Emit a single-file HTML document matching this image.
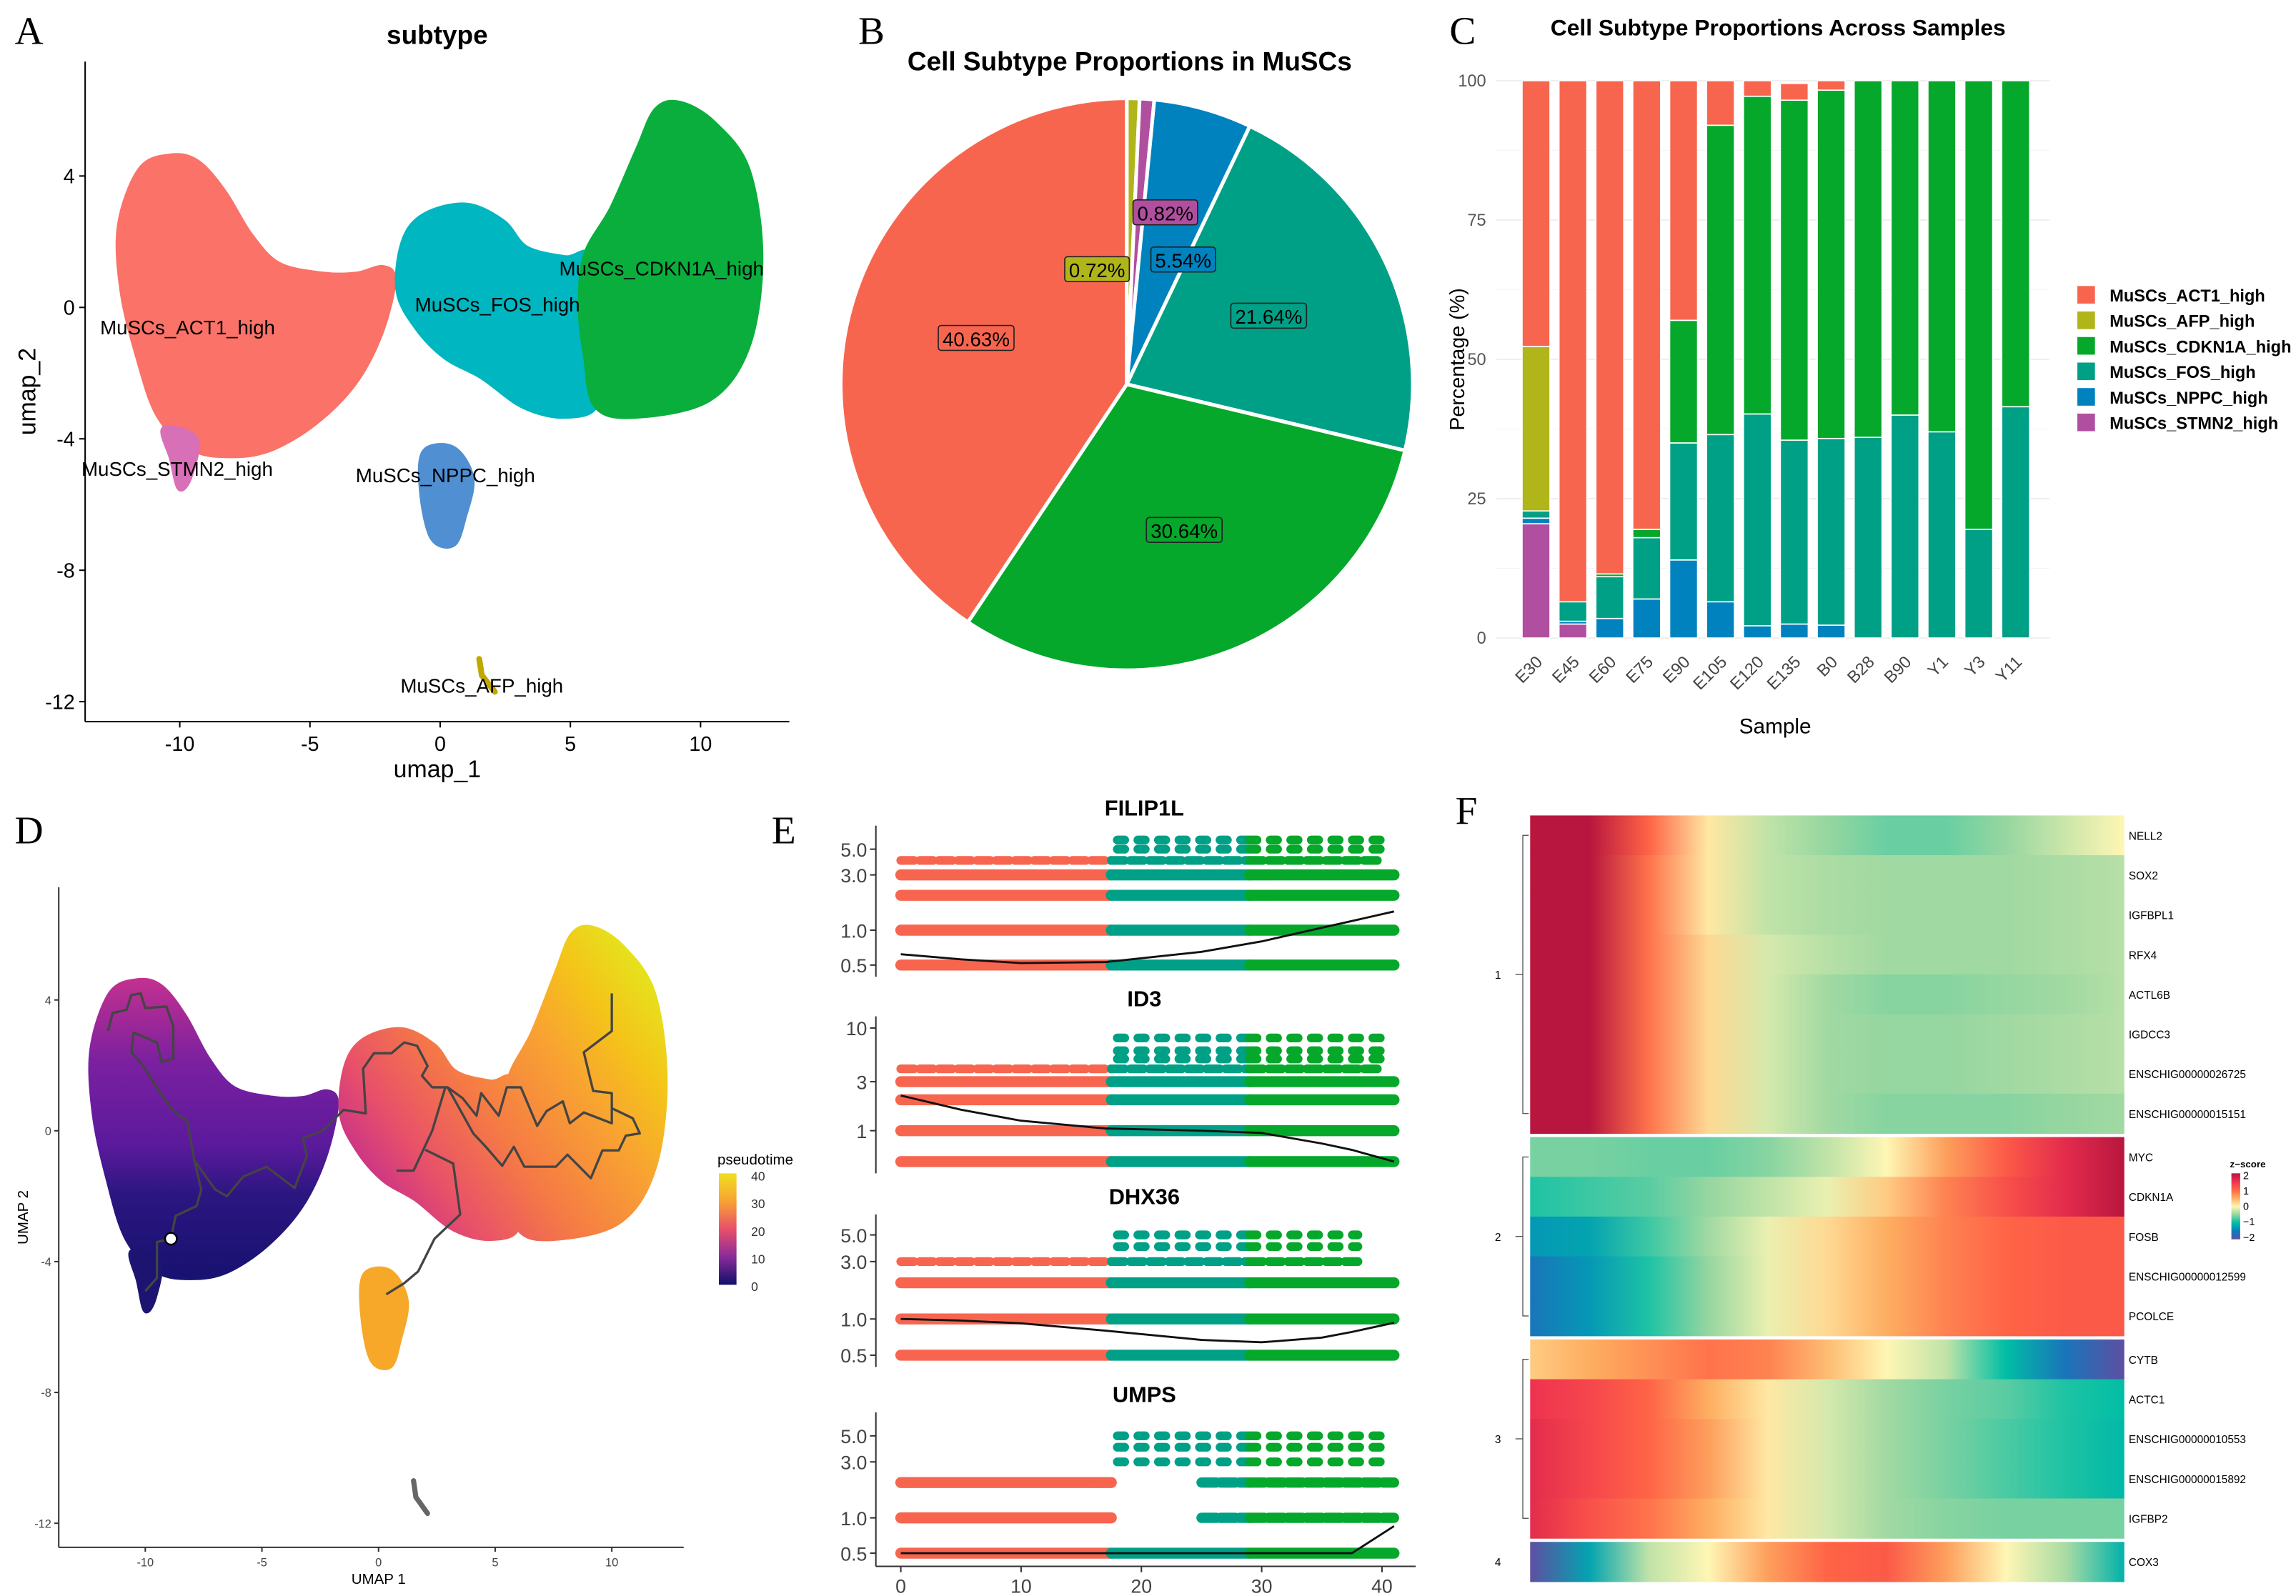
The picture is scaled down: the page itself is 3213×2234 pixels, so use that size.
<!DOCTYPE html>
<html><head><meta charset="utf-8"><style>
html,body{margin:0;padding:0;background:#fff}
svg{display:block}
text{font-family:"Liberation Sans",sans-serif}
.let{font-family:"Liberation Serif",serif;font-size:27px}
</style></head><body>
<svg id="fig" xmlns="http://www.w3.org/2000/svg" width="3213" height="2234" viewBox="0 0 1565 1088.2">
<defs id="defs"></defs>
<text class="let" x="10" y="30">A</text>
<text class="let" x="585" y="30">B</text>
<text class="let" x="988" y="30">C</text>
<text class="let" x="10" y="575">D</text>
<text class="let" x="526" y="575">E</text>
<text class="let" x="992" y="562">F</text>
<g id="pA"></g>
<g id="pB"></g>
<g id="pC"></g>
<g id="pD"></g>
<g id="pE"></g>
<g id="pF"></g>
</svg>
<script>
const NS="http://www.w3.org/2000/svg";
function mk(p,tag,at,txt){const e=document.createElementNS(NS,tag);for(const k in at)e.setAttribute(k,at[k]);if(txt!==undefined)e.textContent=txt;p.appendChild(e);return e;}
const defs=document.getElementById('defs');
function smoothPath(P){const n=P.length;let d='M'+P[0][0]+','+P[0][1];
 for(let i=0;i<n;i++){const p0=P[(i-1+n)%n],p1=P[i],p2=P[(i+1)%n],p3=P[(i+2)%n];
  const c1=[p1[0]+(p2[0]-p0[0])/6,p1[1]+(p2[1]-p0[1])/6],c2=[p2[0]-(p3[0]-p1[0])/6,p2[1]-(p3[1]-p1[1])/6];
  d+=`C${c1[0]},${c1[1]} ${c2[0]},${c2[1]} ${p2[0]},${p2[1]}`;}return d+'Z';}

const COL={ACT1:'#F8654F',AFP:'#B0B51A',CDKN1A:'#05A82A',FOS:'#00A087',NPPC:'#0082BF',STMN2:'#B04FA0'};

// ===== Panel A data =====
const clusterNames=['ACT1','FOS','CDKN1A','NPPC','STMN2'];
const clusterColorsA=['#FA7268','#00B6C0','#0AAE3C','#4F8FD2','#D870B8'];
const shapeACT1=[[-11.5,4.2],[-10.3,4.6],[-9.3,4.4],[-8.3,3.5],[-7.3,2.2],[-6.2,1.3],[-4.5,1.0],[-3.2,1.0],[-2.2,1.2],[-1.8,0.8],[-2.3,-0.8],[-3.3,-2.3],[-4.8,-3.5],[-6.5,-4.3],[-8,-4.5],[-9.5,-4.3],[-10.8,-3.3],[-11.6,-1.5],[-12.2,0.5],[-12.3,2.5]];
const shapeFOS=[[-1.4,2],[-0.6,2.8],[1,3.1],[2.4,2.6],[3.3,1.8],[4.8,1.5],[5.8,1.5],[5.6,-1],[6,-2.9],[4.8,-3.3],[3.2,-3],[1.6,-2.1],[0.2,-1.5],[-0.9,-0.6],[-1.6,0.5]];
const shapeCDKN1A=[[5.6,1.6],[6.6,3],[7.6,4.8],[8.3,6],[9.2,6.2],[10.5,5.6],[11.8,4.2],[12.3,1.5],[11.8,-1.2],[10.3,-2.8],[7.5,-3.3],[6,-3],[5.6,-1.5],[5.4,0]];
const shapeNPPC=[[-0.6,-4.4],[0.5,-4.3],[1.2,-5.2],[0.9,-6.4],[0.5,-7.2],[-0.3,-7.0],[-0.7,-5.6]];
const shapeSTMN2=[[-10.6,-3.7],[-9.4,-4.0],[-9.6,-5.1],[-10,-5.5],[-10.3,-4.6]];
const shapeAFP=[[1.5,-10.7],[1.6,-11.2],[2.1,-11.7]];
const labelA=[['MuSCs_ACT1_high',-9.7,-0.6],['MuSCs_FOS_high',2.2,0.1],['MuSCs_CDKN1A_high',8.5,1.2],['MuSCs_STMN2_high',-10.1,-4.9],['MuSCs_NPPC_high',0.2,-5.1],['MuSCs_AFP_high',1.6,-11.5]];
const ticksUx=[-10,-5,0,5,10], ticksUy=[4,0,-4,-8,-12];

(function(){
 const g=document.getElementById('pA');
 const X=u=>300+u*17.75, Y=v=>209.6-v*22.4;
 const poly=(pts,fill,name)=>{const p=mk(g,'path',{d:smoothPath(pts.map(q=>[X(q[0]),Y(q[1])])),fill:fill,stroke:fill,'stroke-width':4,'stroke-linejoin':'round'});};
 [shapeACT1,shapeFOS,shapeCDKN1A,shapeNPPC,shapeSTMN2].forEach((s,i)=>poly(s,clusterColorsA[i],'cluster-'+clusterNames[i].toLowerCase()));
 const afp=mk(g,'polyline',{points:shapeAFP.map(q=>X(q[0])+','+Y(q[1])).join(' '),fill:'none',stroke:'#C0A800','stroke-width':4,'stroke-linecap':'round'});
 
 mk(g,'line',{x1:58,y1:42,x2:58,y2:492,stroke:'#000','stroke-width':1});
 mk(g,'line',{x1:58,y1:492,x2:538,y2:492,stroke:'#000','stroke-width':1});
 ticksUx.forEach(t=>{mk(g,'line',{x1:X(t),y1:492,x2:X(t),y2:496,stroke:'#000'});const e=mk(g,'text',{x:X(t),y:512,'text-anchor':'middle','font-size':14},String(t));});
 ticksUy.forEach(t=>{mk(g,'line',{x1:54,y1:Y(t),x2:58,y2:Y(t),stroke:'#000'});const e=mk(g,'text',{x:51,y:Y(t)+5,'text-anchor':'end','font-size':14},String(t));});
 labelA.forEach(l=>{const e=mk(g,'text',{x:X(l[1]),y:Y(l[2])+5,'text-anchor':'middle','font-size':13.5},l[0]);});
 let e=mk(g,'text',{x:298,y:530,'text-anchor':'middle','font-size':16.5},'umap_1');
 e=mk(g,'text',{x:24,y:267,'text-anchor':'middle','font-size':16.5,transform:'rotate(-90 24 267)'},'umap_2');
 e=mk(g,'text',{x:298,y:30,'text-anchor':'middle','font-size':18,'font-weight':'bold'},'subtype');
})();

// ===== Panel B pie =====
const pieLabels=['MuSCs_AFP_high','MuSCs_STMN2_high','MuSCs_NPPC_high','MuSCs_FOS_high','MuSCs_CDKN1A_high','MuSCs_ACT1_high'];
const pieValues=[0.72,0.82,5.54,21.64,30.64,40.63];
const pieColors=[COL.AFP,COL.STMN2,COL.NPPC,COL.FOS,COL.CDKN1A,COL.ACT1];
(function(){
 const g=document.getElementById('pB');const cx=768,cy=262,r=195;
 const tot=pieValues.reduce((a,b)=>a+b,0);let acc=0;
 const pt=(f,rr)=>[cx+rr*Math.sin(f*2*Math.PI),cy-rr*Math.cos(f*2*Math.PI)];
 const labs=[];
 pieValues.forEach((v,i)=>{const f0=acc/tot,f1=(acc+v)/tot;acc+=v;
  const a=pt(f0,r),b=pt(f1,r);const large=(f1-f0)>0.5?1:0;
  const p=mk(g,'path',{d:`M${cx},${cy}L${a[0]},${a[1]}A${r},${r} 0 ${large} 1 ${b[0]},${b[1]}Z`,fill:pieColors[i],stroke:'#fff','stroke-width':2.5});
  
  let m;
  if(v<2){m=pt((f0+f1)/2,r*(i==0?0.4:0.6));m[0]+=(i==0?-22:18);}
  else if(v<10){m=pt((f0+f1)/2,r*0.45);m[0]+=15;}
  else m=pt((f0+f1)/2,r*0.55);
  labs.push([m,v,pieColors[i]]);});
 labs.forEach(l=>{const t=l[1].toFixed(2)+'%';const w=t.length*7.6+6;
  mk(g,'rect',{x:l[0][0]-w/2,y:l[0][1]-9,width:w,height:17,rx:2,fill:l[2],stroke:'#222','stroke-width':0.8});
  const e=mk(g,'text',{x:l[0][0],y:l[0][1]+5,'text-anchor':'middle','font-size':13.5},t);});
 const e=mk(g,'text',{x:770,y:48,'text-anchor':'middle','font-size':18,'font-weight':'bold'},'Cell Subtype Proportions in MuSCs');
})();

// ===== Panel C stacked bars =====
const samples=['E30','E45','E60','E75','E90','E105','E120','E135','B0','B28','B90','Y1','Y3','Y11'];
const stackOrder=['STMN2','NPPC','FOS','CDKN1A','AFP','ACT1'];
const vSTMN2=[20.5,2.5,0,0,0,0,0,0,0,0,0,0,0,0];
const vNPPC=[1,0.5,3.5,7,14,6.5,2.2,2.5,2.3,0,0,0,0,0];
const vFOS=[1.3,3.5,7.5,11,21,30,38,33,33.5,36,40,37,19.5,41.5];
const vCDKN1A=[0,0,0.5,1.5,22,55.5,57,61,62.5,64,60,63,80.5,58.5];
const vAFP=[29.5,0,0,0,0,0,0,0,0,0,0,0,0,0];
const vACT1=[47.7,93.5,88.5,80.5,43,8,2.8,3,1.7,0,0,0,0,0];
const yTicksC=[0,25,50,75,100];
(function(){
 const g=document.getElementById('pC');const Y=v=>435-v*3.8;const X=i=>1047+i*25.15;const bw=19;
 yTicksC.forEach(t=>{mk(g,'line',{x1:1020,x2:1397,y1:Y(t),y2:Y(t),stroke:'#ececec','stroke-width':0.8});
  const e=mk(g,'text',{x:1013,y:Y(t)+4,'text-anchor':'end','font-size':11.5,fill:'#555'},String(t));});
 [12.5,37.5,62.5,87.5].forEach(t=>mk(g,'line',{x1:1020,x2:1397,y1:Y(t),y2:Y(t),stroke:'#f4f4f4','stroke-width':0.6}));
 const series=[vSTMN2,vNPPC,vFOS,vCDKN1A,vAFP,vACT1];
 samples.forEach((s,i)=>{let acc=0;
  series.forEach((arr,k)=>{const v=arr[i];if(v<=0)return;const r=mk(g,'rect',{x:X(i)-bw/2,y:Y(acc+v),width:bw,height:v*3.8,fill:COL[stackOrder[k]],stroke:'#fff','stroke-width':0.8});
   acc+=v;});
  const e=mk(g,'text',{x:X(i)+5,y:452,'text-anchor':'end','font-size':11.5,fill:'#444',transform:`rotate(-45 ${X(i)+5} 452)`},s);});
 let e=mk(g,'text',{x:1210,y:500,'text-anchor':'middle','font-size':14.5},'Sample');
 e=mk(g,'text',{x:998,y:245,'text-anchor':'middle','font-size':14,transform:'rotate(-90 998 245)'},'Percentage (%)');
 e=mk(g,'text',{x:1212,y:24,'text-anchor':'middle','font-size':15.5,'font-weight':'bold'},'Cell Subtype Proportions Across Samples');
 ['ACT1','AFP','CDKN1A','FOS','NPPC','STMN2'].forEach((k,i)=>{const y=195+i*17.4;
  const lg=mk(g,'g',{});
  mk(lg,'rect',{x:1416,y:y,width:12,height:12,fill:COL[k]});
  mk(lg,'text',{x:1438,y:y+10.5,'font-size':11.5,'font-weight':'bold'},'MuSCs_'+k+'_high');});
})();

// ===== Panel D pseudotime =====
const trajMain=[[-8.9,-3.3],[-8.7,-2.6],[-7.8,-2.3],[-7.6,-1.8],[-7.9,-0.9],[-8.2,0.3],[-8.8,0.6],[-9.3,1.1],[-10.1,2.0],[-10.6,2.4],[-10.5,3.0],[-9.5,2.7],[-9.3,2.1],[-8.8,2.2],[-8.8,3.2],[-9.1,3.8],[-10.0,3.75],[-10.2,4.2],[-10.6,4.15],[-10.8,3.7],[-11.4,3.6],[-11.6,3.05]];
const trajBridge=[[-7.9,-0.9],[-7.2,-1.6],[-7,-1.8],[-6.5,-2.0],[-5.8,-1.4],[-4.8,-1.1],[-3.6,-1.75],[-3.07,-0.76],[-3.25,-0.23],[-2.4,0],[-1.5,0.64],[-0.55,0.53],[-0.66,1.9],[-0.2,2.37],[0.55,2.37],[1.1,2.7],[1.65,2.6],[2.1,1.98],[1.86,1.68],[2.3,1.33],[2.96,1.33],[3.6,1.0],[4.2,0.46],[4.4,1.15],[5.15,0.46],[5.5,1.33],[6.1,1.33],[6.8,0.15],[7.2,0.6],[7.9,0.9],[8.2,0.23],[8.8,0.56],[10,0.23],[10,1.15],[9.2,1.22],[8.8,2.4],[10,3.05],[10,4.2]];
const trajLoop=[[10,0.69],[10.9,0.38],[11.2,-0.08],[10.6,-0.15],[10.3,-0.6],[9.6,-0.6],[9.1,-1.45],[8.1,-0.73],[7.6,-1.1],[6.25,-1.1],[5.8,-0.49],[5.3,-1.07],[4.6,-0.49],[4.06,-0.08],[2.96,1.33]];
const trajBranch=[[2.85,1.3],[2.3,0],[1.5,-1.22],[0.77,-1.22]];
const trajDown=[[2,-0.58],[3.2,-1],[3.5,-2.56],[2.4,-3.3],[1.7,-4.3],[1.1,-4.66],[0.33,-5.0]];
const trajStem=[[-8.9,-3.3],[-9.5,-3.4],[-9.5,-4.5],[-10,-4.9]];
(function(){
 const g=document.getElementById('pD');const X=u=>258+u*15.9, Y=v=>771-v*22.3;
 const lin=(id,x1,y1,x2,y2,stops)=>{const l=mk(defs,'linearGradient',{id:id,gradientUnits:'userSpaceOnUse',x1:x1,y1:y1,x2:x2,y2:y2});stops.forEach(s=>mk(l,'stop',{offset:s[0],'stop-color':s[1]}));};
 lin('gL',0,Y(4.6),0,Y(-5.5),[[0,'#C1308F'],[0.25,'#7A20A0'],[0.5,'#5B1A9C'],[0.65,'#2B1680'],[1,'#10106A']]);
 lin('gR',X(-1.5),Y(-1),X(11),Y(5.5),[[0,'#C42E8C'],[0.18,'#E8506A'],[0.4,'#F57A45'],[0.65,'#F8A232'],[0.82,'#F5C21A'],[1,'#E5E41C']]);
 const poly=(pts,fill,name)=>{const p=mk(g,'path',{d:smoothPath(pts.map(q=>[X(q[0]),Y(q[1])])),fill:fill,stroke:fill,'stroke-width':3,'stroke-linejoin':'round'});};
 poly(shapeACT1,'url(#gL)','left-cell-cloud');
 poly(shapeSTMN2,'#1C1470','left-tail-cloud');
 poly(shapeFOS,'url(#gR)','middle-cell-cloud');
 poly(shapeCDKN1A,'url(#gR)','right-cell-cloud');
 poly(shapeNPPC,'#F7A828','nppc-cell-cloud');
 const afp=mk(g,'polyline',{points:shapeAFP.map(q=>X(q[0])+','+Y(q[1])).join(' '),fill:'none',stroke:'#666','stroke-width':3.5,'stroke-linecap':'round'});
 
 [trajMain,trajBridge,trajLoop,trajBranch,trajDown,trajStem].forEach(t=>{const p=mk(g,'polyline',{points:t.map(q=>X(q[0])+','+Y(q[1])).join(' '),fill:'none',stroke:'#444','stroke-width':1.6,'stroke-linejoin':'round'});});
 mk(g,'circle',{cx:X(-8.9),cy:Y(-3.3),r:4,fill:'#fff',stroke:'#000','stroke-width':1.2});
 mk(g,'line',{x1:40,y1:605,x2:40,y2:1055,stroke:'#333'});mk(g,'line',{x1:40,y1:1055,x2:466,y2:1055,stroke:'#333'});
 ticksUx.forEach(t=>{mk(g,'line',{x1:X(t),y1:1055,x2:X(t),y2:1058,stroke:'#333'});const e=mk(g,'text',{x:X(t),y:1068,'text-anchor':'middle','font-size':8,fill:'#444'},String(t));});
 ticksUy.forEach(t=>{mk(g,'line',{x1:37,y1:Y(t),x2:40,y2:Y(t),stroke:'#333'});const e=mk(g,'text',{x:35,y:Y(t)+3,'text-anchor':'end','font-size':8,fill:'#444'},String(t));});
 let e=mk(g,'text',{x:258,y:1080,'text-anchor':'middle','font-size':10},'UMAP 1');
 e=mk(g,'text',{x:19,y:830,'text-anchor':'middle','font-size':10,transform:'rotate(-90 19 830)'},'UMAP 2');
 lin('gLeg',0,800,0,876,[[0,'#F0E020'],[0.25,'#F8A232'],[0.5,'#E8506A'],[0.75,'#8A2A9A'],[1,'#10106A']]);
 e=mk(g,'text',{x:489,y:794,'font-size':10},'pseudotime');
 mk(g,'rect',{x:490,y:800,width:12,height:76,fill:'url(#gLeg)'});
 [40,30,20,10,0].forEach((t,i)=>{const e2=mk(g,'text',{x:512,y:805+i*18.8,'font-size':8.5,fill:'#333'},String(t));});
})();

// ===== Panel E genes over pseudotime =====
const genes=['FILIP1L','ID3','DHX36','UMPS'];
const denseRows=[[0.5,1,2,3],[0.5,1,2,3],[0.5,1,2],[0.5]];
const sparseRows=[[4,5,6],[4,5,6,8],[3,4,5],[1,2,3,4,5]];
const trendT=[0,5,10,17,25,30,35,37.5,41];
const trendFILIP1L=[0.62,0.56,0.52,0.53,0.65,0.8,1.05,1.2,1.45];
const trendID3=[2.2,1.6,1.25,1.05,1.0,0.95,0.75,0.65,0.5];
const trendDHX36=[1.0,0.97,0.92,0.8,0.67,0.64,0.7,0.78,0.93];
const trendUMPS=[0.5,0.5,0.5,0.5,0.5,0.5,0.5,0.5,0.85];
const yTicksE=[[5,3,1,0.5],[10,3,1],[5,3,1,0.5],[5,3,1,0.5]];
const xTicksE=[0,10,20,30,40];
(function(){
 const g=document.getElementById('pE');const X=t=>614+t*8.2;
 const panels=[{top:563,y05:658,dec:79},{top:693,y05:792,dec:70},{top:828,y05:924,dec:82},{top:963,y05:1059,dec:80}];
 const trends=[trendFILIP1L,trendID3,trendDHX36,trendUMPS];
 const segs=[[0,17.5,'#F8654F'],[17.5,29,'#00A087'],[29,41,'#05A82A']];
 genes.forEach((gn,k)=>{const P=panels[k];const Y=v=>P.y05-P.dec*Math.log10(v/0.5);
  const bottom=k==3?1068:P.y05+8;
  mk(g,'line',{x1:597,y1:P.top,x2:597,y2:bottom,stroke:'#333'});
  let e=mk(g,'text',{x:780,y:P.top-7,'text-anchor':'middle','font-size':15,'font-weight':'bold'},gn);
  yTicksE[k].forEach(t=>{mk(g,'line',{x1:593,x2:597,y1:Y(t),y2:Y(t),stroke:'#333'});const e2=mk(g,'text',{x:591,y:Y(t)+5,'text-anchor':'end','font-size':13,fill:'#444','font-family':'"DejaVu Sans",sans-serif'},t.toFixed(k==1?0:1));});
  denseRows[k].forEach(v=>segs.forEach(s=>{const l=mk(g,'line',{x1:X(s[0]),x2:X(s[1]),y1:Y(v),y2:Y(v),stroke:s[2],'stroke-width':7.5,'stroke-linecap':'round'});}));
  if(k==3){[1,2].forEach(v=>{const l=mk(g,'line',{x1:X(0),x2:X(17.5),y1:Y(v),y2:Y(v),stroke:'#F8654F','stroke-width':7.5,'stroke-linecap':'round'});});}
  sparseRows[k].forEach((v,j)=>{if(k==3&&v<=2){segs.slice(1).forEach(s=>{const l=mk(g,'line',{x1:X(Math.max(s[0],25)),x2:X(s[1]),y1:Y(v),y2:Y(v),stroke:s[2],'stroke-width':7,'stroke-dasharray':'10 3','stroke-linecap':'round'});});return;}
   const start=(j==0&&k<3)?0:18;
   segs.forEach(s=>{if(s[1]<=start)return;const a=Math.max(s[0],start);const fr=j==0?'9 4':'5 9';
    const l=mk(g,'line',{x1:X(a),x2:X(Math.min(s[1],k==2?38:40)),y1:Y(v),y2:Y(v),stroke:s[2],'stroke-width':6,'stroke-dasharray':fr,'stroke-linecap':'round'});});});
  const tr=trends[k];const pl=mk(g,'polyline',{points:trendT.map((t,i)=>X(t)+','+Y(tr[i])).join(' '),fill:'none',stroke:'#111','stroke-width':1.4,'stroke-linejoin':'round'});
  
 });
 mk(g,'line',{x1:597,y1:1068,x2:965,y2:1068,stroke:'#333'});
 xTicksE.forEach(t=>{mk(g,'line',{x1:X(t),x2:X(t),y1:1068,y2:1072,stroke:'#333'});const e=mk(g,'text',{x:X(t),y:1086,'text-anchor':'middle','font-size':13,fill:'#444','font-family':'"DejaVu Sans",sans-serif'},String(t));});
})();

// ===== Panel F heatmap =====
const heatGenes=['NELL2','SOX2','IGFBPL1','RFX4','ACTL6B','IGDCC3','ENSCHIG00000026725','ENSCHIG00000015151','MYC','CDKN1A','FOSB','ENSCHIG00000012599','PCOLCE','CYTB','ACTC1','ENSCHIG00000010553','ENSCHIG00000015892','IGFBP2','COX3'];
const heatGroup=[1,1,1,1,1,1,1,1,2,2,2,2,2,3,3,3,3,3,4];
const zNELL2=[2,2,1,0.1,-0.3,-0.5,-0.65,-0.65,-0.5,-0.25,0];
const zSOX2=[2,2,0.9,0.1,-0.3,-0.4,-0.45,-0.45,-0.45,-0.4,-0.35];
const zIGFBPL1=[2,2,0.9,0.1,-0.3,-0.4,-0.45,-0.45,-0.45,-0.4,-0.35];
const zRFX4=[2,2,0.9,0.2,-0.2,-0.35,-0.45,-0.45,-0.45,-0.4,-0.35];
const zACTL6B=[2,2,0.9,0.2,-0.2,-0.45,-0.55,-0.55,-0.5,-0.45,-0.35];
const zIGDCC3=[2,2,0.9,0.2,-0.2,-0.45,-0.5,-0.5,-0.45,-0.4,-0.35];
const zENS26725=[2,2,0.9,0.2,-0.2,-0.45,-0.5,-0.5,-0.45,-0.4,-0.35];
const zENS15151=[2,2,0.9,0.2,-0.2,-0.45,-0.55,-0.55,-0.55,-0.5,-0.45];
const zMYC=[-0.6,-0.6,-0.65,-0.65,-0.55,-0.3,0,0.6,1.1,1.6,2];
const zCDKN1A=[-0.9,-0.8,-0.7,-0.5,-0.3,-0.1,0.3,0.8,1.2,1.6,2];
const zFOSB=[-1.3,-1.2,-0.8,-0.45,-0.1,0.2,0.5,0.8,1,1.1,1.1];
const zENS12599=[-1.6,-1.3,-0.9,-0.5,-0.1,0.2,0.5,0.8,1,1.1,1.1];
const zPCOLCE=[-1.6,-1.3,-0.9,-0.5,-0.1,0.2,0.5,0.8,1,1.1,1.1];
const zCYTB=[0.3,0.5,0.7,0.9,0.8,0.4,0,-0.3,-1,-1.6,-2];
const zACTC1=[1.5,1.3,1,0.5,0.1,-0.2,-0.45,-0.6,-0.7,-0.9,-1];
const zENS10553=[1.6,1.3,1,0.6,0.1,-0.2,-0.45,-0.6,-0.75,-0.9,-1.05];
const zENS15892=[1.6,1.3,1,0.6,0.1,-0.2,-0.45,-0.6,-0.75,-0.9,-1.05];
const zIGFBP2=[1.6,1.2,0.9,0.5,0.1,-0.2,-0.45,-0.55,-0.6,-0.6,-0.6];
const zCOX3=[-2,-1.2,-0.3,0,0.6,1,1.1,0.6,0,-0.4,-1.1];
const zStops=[[-2,[94,79,162]],[-1.5,[8,126,192]],[-1,[0,190,165]],[-0.5,[150,214,160]],[0,[255,246,180]],[0.5,[253,174,97]],[1,[255,100,70]],[1.5,[238,50,80]],[2,[184,22,62]]];
function zcol(z){z=Math.max(-2,Math.min(2,z));for(let i=0;i<zStops.length-1;i++){const a=zStops[i],b=zStops[i+1];if(z<=b[0]){const f=(z-a[0])/(b[0]-a[0]);return 'rgb('+a[1].map((c,j)=>Math.round(c+(b[1][j]-c)*f)).join(',')+')';}}return 'rgb(184,22,62)';}
(function(){
 const g=document.getElementById('pF');
 const rows=[zNELL2,zSOX2,zIGFBPL1,zRFX4,zACTL6B,zIGDCC3,zENS26725,zENS15151,zMYC,zCDKN1A,zFOSB,zENS12599,zPCOLCE,zCYTB,zACTC1,zENS10553,zENS15892,zIGFBP2,zCOX3];
 const x0=1043,x1=1448,rh=27.1;let y=556;let prev=1;const groupY={};
 rows.forEach((z,i)=>{if(heatGroup[i]!=prev){y+=2.5;prev=heatGroup[i];}
  const lg=mk(defs,'linearGradient',{id:'hf'+i,x1:0,y1:0,x2:1,y2:0});
  z.forEach((v,j)=>mk(lg,'stop',{offset:j/(z.length-1),'stop-color':zcol(v)}));
  const r=mk(g,'rect',{x:x0,y:y,width:x1-x0,height:rh+0.3,fill:'url(#hf'+i+')'});
  
  const e=mk(g,'text',{x:1451,y:y+rh/2+3,'font-size':7.5,'font-family':'"Liberation Sans Narrow","Liberation Sans",sans-serif'},heatGenes[i]);
  (groupY[heatGroup[i]]=groupY[heatGroup[i]]||[]).push(y+rh/2);y+=rh;});
 Object.keys(groupY).forEach(k=>{const ys=groupY[k];const mid=(ys[0]+ys[ys.length-1])/2;
  const e=mk(g,'text',{x:1021,y:mid+3,'text-anchor':'middle','font-size':7.5},k);
  if(ys.length>1){const d=mk(g,'path',{d:`M1042,${ys[0]}H1038V${ys[ys.length-1]}H1042M1038,${mid}H1033`,fill:'none',stroke:'#444','stroke-width':0.6});}});
 const lg=mk(defs,'linearGradient',{id:'zleg',x1:0,y1:1,x2:0,y2:0});
 [-2,-1.5,-1,-0.5,0,0.5,1,1.5,2].forEach((z,j)=>mk(lg,'stop',{offset:j/8,'stop-color':zcol(z)}));
 let e=mk(g,'text',{x:1520,y:796,'font-size':6.5,'font-weight':'bold'},'z−score');
 mk(g,'rect',{x:1521,y:800,width:6,height:45,fill:'url(#zleg)'});
 ['2','1','0','−1','−2'].forEach((t,i)=>{const e2=mk(g,'text',{x:1529,y:804+i*10.5,'font-size':7},t);});
})();
</script>
</body></html>
